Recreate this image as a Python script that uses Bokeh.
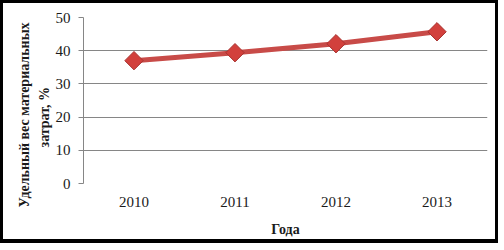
import math
from bokeh.plotting import figure
from bokeh.models import FixedTicker, Title, ColumnDataSource
from bokeh.embed import file_html
from bokeh.resources import INLINE

years = ["2010", "2011", "2012", "2013"]
values = [37.0, 39.4, 42.1, 45.7]
y_ticks = [0, 10, 20, 30, 40, 50]
y_title_1 = "Удельный вес материальных"
y_title_2 = "затрат, %"
x_title = "Года"

FONT = "Liberation Serif"

p = figure(width=498, height=243, x_range=years, y_range=(0, 50),
           output_backend="svg", toolbar_location=None,
           min_border_left=80, min_border_right=14, min_border_top=14, min_border_bottom=63)
p.styles = {"border-style": "solid", "border-color": "black", "border-width": "3px 3px 4px 3px"}
p.outline_line_color = None
p.background_fill_color = "white"
p.border_fill_color = "white"

src = ColumnDataSource(dict(x=years, y=values))
p.line("x", "y", source=src, line_color="#C84B48", line_width=5)
p.scatter("x", "y", source=src, marker="square", size=13, angle=math.pi / 4,
          fill_color="#D2403C", line_color="#A83230", line_width=1)

# y axis
p.yaxis.ticker = FixedTicker(ticks=y_ticks)
p.yaxis.axis_line_color = "#868686"
p.yaxis.major_tick_line_color = "#868686"
p.yaxis.major_tick_out = 5
p.yaxis.major_tick_in = 0
p.yaxis.minor_tick_line_color = None
p.yaxis.major_label_text_font = FONT
p.yaxis.major_label_text_font_size = "15px"
p.yaxis.major_label_text_color = "#1a1a1a"
p.yaxis.major_label_standoff = 8

# x axis
p.xaxis.axis_line_color = None
p.xaxis.major_tick_line_color = None
p.xaxis.minor_tick_line_color = None
p.xaxis.major_label_text_font = FONT
p.xaxis.major_label_text_font_size = "15px"
p.xaxis.major_label_text_color = "#1a1a1a"
p.xaxis.major_label_standoff = 7
p.xaxis.axis_label = x_title
p.xaxis.axis_label_text_font = FONT
p.xaxis.axis_label_text_font_style = "bold"
p.xaxis.axis_label_text_font_size = "14px"
p.xaxis.axis_label_standoff = 12
p.xaxis.axis_label_text_color = "#1a1a1a"

p.xgrid.grid_line_color = None
p.ygrid.grid_line_color = "#868686"
p.ygrid.grid_line_width = 1

for txt, so, off in [(y_title_2, 2, 36), (y_title_1, 4, -24)]:
    p.add_layout(Title(text=txt, align="left", offset=off, standoff=so,
                       text_font=FONT, text_font_style="bold", text_font_size="14px",
                       text_color="#1a1a1a"), "left")

open("out.html", "w").write(file_html(p, INLINE))
